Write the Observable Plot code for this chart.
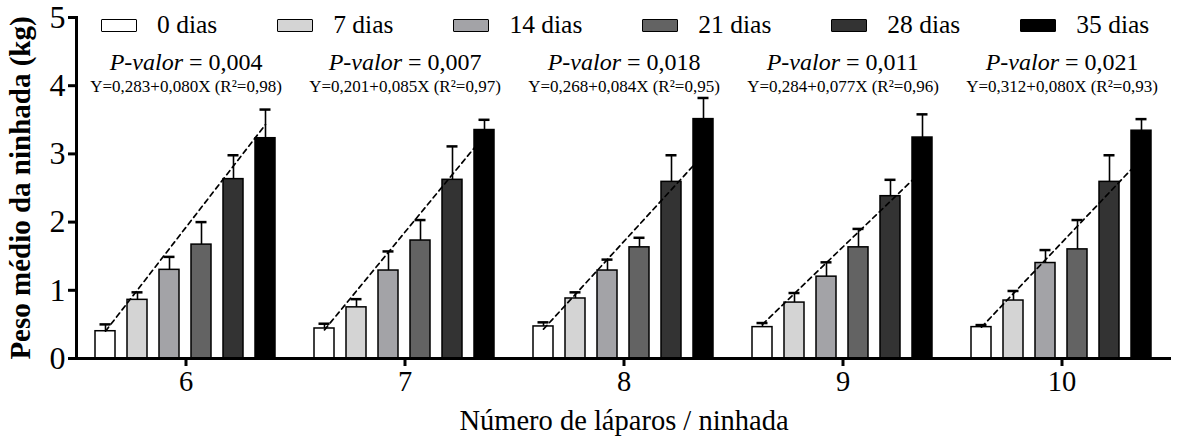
<!DOCTYPE html>
<html><head><meta charset="utf-8">
<script src="https://cdn.jsdelivr.net/npm/d3@7"></script>
<script src="https://cdn.jsdelivr.net/npm/@observablehq/plot@0.6"></script>
<style>
body{margin:0;background:#fff;font-family:'Liberation Serif',serif;}
#wrap{position:relative;width:1178px;height:443px;font-family:'Liberation Serif',serif;}
#legend{position:absolute;left:101px;top:12px;display:flex;align-items:center;font-size:25.5px;line-height:26px;color:#000;white-space:nowrap;font-family:'Liberation Serif',serif;}
.item{display:flex;align-items:center;margin-right:60px;flex:none;}
.sw{width:34px;height:11px;border:1.5px solid #000;border-radius:1px;margin-right:20px;flex:none;}
svg text{font-family:'Liberation Serif',serif;}
</style></head><body><div id="wrap"><div id="legend"></div></div>
<script>
const groups = [6, 7, 8, 9, 10];
const days = [0, 7, 14, 21, 28, 35];
const dayLabels = ["0 dias", "7 dias", "14 dias", "21 dias", "28 dias", "35 dias"];
const dayColors = ["#ffffff", "#d4d4d4", "#a3a3a7", "#636363", "#333333", "#000000"];

const mean6 = [0.40, 0.86, 1.30, 1.67, 2.63, 3.23];
const err6  = [0.10, 0.11, 0.19, 0.33, 0.35, 0.42];
const mean7 = [0.44, 0.75, 1.29, 1.73, 2.62, 3.35];
const err7  = [0.07, 0.12, 0.28, 0.30, 0.49, 0.15];
const mean8 = [0.47, 0.88, 1.29, 1.63, 2.59, 3.51];
const err8  = [0.06, 0.09, 0.16, 0.14, 0.39, 0.31];
const mean9 = [0.46, 0.82, 1.20, 1.63, 2.38, 3.24];
const err9  = [0.06, 0.14, 0.21, 0.27, 0.24, 0.34];
const mean10 = [0.46, 0.85, 1.40, 1.60, 2.59, 3.34];
const err10  = [0.03, 0.14, 0.19, 0.43, 0.39, 0.17];

const trendStart = [0.40, 0.42, 0.43, 0.50, 0.46];
const trendEnd   = [3.43, 3.27, 2.99, 2.76, 2.93];

const pValues = ["0,004", "0,007", "0,018", "0,011", "0,021"];
const equations = [
  "Y=0,283+0,080X (R²=0,98)",
  "Y=0,201+0,085X (R²=0,97)",
  "Y=0,268+0,084X (R²=0,95)",
  "Y=0,284+0,077X (R²=0,96)",
  "Y=0,312+0,080X (R²=0,93)"
];
const yTicks = [0, 1, 2, 3, 4, 5];

const means = [mean6, mean7, mean8, mean9, mean10];
const errs = [err6, err7, err8, err9, err10];
const rows = [];
groups.forEach((g, gi) => days.forEach((d, di) => rows.push({group: g, day: d, mean: means[gi][di], top: means[gi][di] + errs[gi][di]})));
const trend = [];
groups.forEach((g, gi) => {
  trend.push({group: g, day: days[0], value: trendStart[gi]});
  trend.push({group: g, day: days[days.length - 1], value: trendEnd[gi]});
});
const annot = groups.map((g, gi) => ({group: g, p: pValues[gi], eq: equations[gi]}));

const font = "Liberation Serif";
const chart = Plot.plot({
  width: 1178, height: 443,
  marginLeft: 76, marginRight: 7, marginTop: 17, marginBottom: 85,
  style: {fontFamily: font, background: "transparent", color: "#000", overflow: "visible"},
  fx: {domain: groups, padding: 0},
  x: {domain: days, paddingInner: 0.37, paddingOuter: 0.535, axis: null},
  y: {domain: [0, 5]},
  color: {type: "ordinal", domain: days, range: dayColors},
  marks: [
    Plot.ruleX(rows, {fx: "group", x: "day", y1: "mean", y2: "top", stroke: "#000", strokeWidth: 1.6}),
    Plot.tickY(rows, {fx: "group", x: "day", y: "top", stroke: "#000", strokeWidth: 2.5, insetLeft: 4.5, insetRight: 4.5}),
    Plot.barY(rows, {fx: "group", x: "day", y: "mean", fill: "day", stroke: "#000", strokeWidth: 1.5}),
    Plot.line(trend, {fx: "group", x: "day", y: "value", z: "group", stroke: "#000", strokeWidth: 1.7, strokeDasharray: "5,4"}),
    Plot.ruleY([0], {stroke: "#000", strokeWidth: 3}),
    Plot.frame({anchor: "left", facetAnchor: "left", stroke: "#000", strokeWidth: 3}),
    Plot.axisY({ticks: yTicks, tickFormat: d => String(d), tickSize: 8, tickPadding: 3, fontSize: 32, fontFamily: font, strokeWidth: 3, label: null}),
    Plot.axisY({ticks: [], label: "Peso médio da ninhada (kg)", labelArrow: "none", labelAnchor: "center", labelOffset: 67, fontSize: 29, fontFamily: font, fontWeight: "bold"}),
    Plot.axisFx({anchor: "bottom", tickSize: 8, tickPadding: 4, fontSize: 28.5, fontFamily: font, strokeWidth: 3, label: "Número de láparos / ninhada", labelArrow: "none", labelAnchor: "center", labelOffset: 71}),
    Plot.text(annot, {fx: "group", text: () => "P-valor", frameAnchor: "top", textAnchor: "end", dx: -3, dy: 35, fontStyle: "italic", fontSize: 24, fontFamily: font}),
    Plot.text(annot, {fx: "group", text: d => "= " + d.p, frameAnchor: "top", textAnchor: "start", dx: 3, dy: 35, fontSize: 24, fontFamily: font}),
    Plot.text(annot, {fx: "group", text: "eq", frameAnchor: "top", dy: 62, fontSize: 17, fontFamily: font})
  ]
});
d3.select(chart).selectAll('[aria-label="y-axis label"]').attr("font-weight", "bold");
d3.select(chart).selectAll("text").style("font-family", "'Liberation Serif', serif");
document.getElementById("wrap").prepend(chart);

const legend = d3.select("#legend");
days.forEach((d, i) => {
  const it = legend.append("div").attr("class", "item");
  it.append("div").attr("class", "sw").style("background", dayColors[i]);
  it.append("span").text(dayLabels[i]);
});
</script>
</body></html>
